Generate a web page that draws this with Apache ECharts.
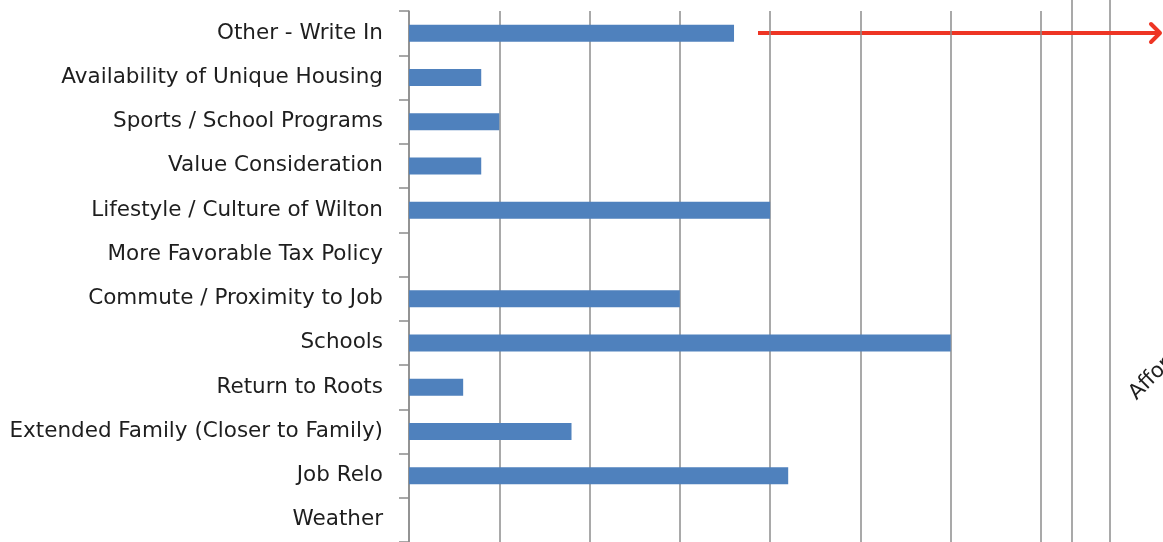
<!DOCTYPE html>
<html>
<head>
<meta charset="utf-8">
<script src="https://cdn.jsdelivr.net/npm/echarts@6/dist/echarts.min.js"></script>
<style>
html,body{margin:0;padding:0;background:#fff;}
#chart{width:1163px;height:542px;}
</style>
</head>
<body>
<div id="chart"></div>
<script>
const categories = [
  "Other - Write In",
  "Availability of Unique Housing",
  "Sports / School Programs",
  "Value Consideration",
  "Lifestyle / Culture of Wilton",
  "More Favorable Tax Policy",
  "Commute / Proximity to Job",
  "Schools",
  "Return to Roots",
  "Extended Family (Closer to Family)",
  "Job Relo",
  "Weather"
];
const values = [18, 4, 5, 4, 20, 0, 15, 30, 3, 9, 21, 0];
const axisMax = 35;
const axisInterval = 5;
const cutOffLabel = "Affordability";

const chart = echarts.init(document.getElementById('chart'));
chart.setOption({
  animation: false,
  backgroundColor: '#ffffff',
  grid: { left: 409, right: 122, top: 11, bottom: -2, containLabel: false },
  xAxis: {
    type: 'value', min: 0, max: axisMax, interval: axisInterval,
    axisLabel: { show: false }, axisLine: { show: false }, axisTick: { show: false },
    splitLine: { show: true, lineStyle: { color: '#8c8c8c', width: 1.5 } }
  },
  yAxis: {
    type: 'category', data: categories, inverse: true,
    axisLine: { show: true, lineStyle: { color: '#8c8c8c', width: 1.5 } },
    axisTick: { show: true, length: 10, lineStyle: { color: '#8c8c8c', width: 1.5 } },
    axisLabel: { margin: 26, color: '#1e1e1e', fontFamily: 'DejaVu Sans', fontSize: 21.5 }
  },
  series: [{
    type: 'bar', data: values, barWidth: 17,
    itemStyle: { color: '#4F81BD' }
  }],
  graphic: [
    { type: 'line', shape: { x1: 1072, y1: 0, x2: 1072, y2: 542 }, style: { stroke: '#8c8c8c', lineWidth: 1.5 } },
    { type: 'line', shape: { x1: 1110, y1: 0, x2: 1110, y2: 542 }, style: { stroke: '#8c8c8c', lineWidth: 1.5 } },
    { type: 'line', shape: { x1: 758, y1: 33, x2: 1159, y2: 33 }, style: { stroke: '#EE3524', lineWidth: 4 } },
    { type: 'polyline', shape: { points: [[1151, 24], [1160, 33], [1151, 42]] }, style: { stroke: '#EE3524', lineWidth: 4, lineCap: 'round', lineJoin: 'round', fill: null } },
    { type: 'text', x: 1140, y: 404, rotation: Math.PI / 4, style: { text: cutOffLabel, fontFamily: 'DejaVu Sans', fontSize: 21, fill: '#1e1e1e', textVerticalAlign: 'bottom' } }
  ]
});
</script>
</body>
</html>
